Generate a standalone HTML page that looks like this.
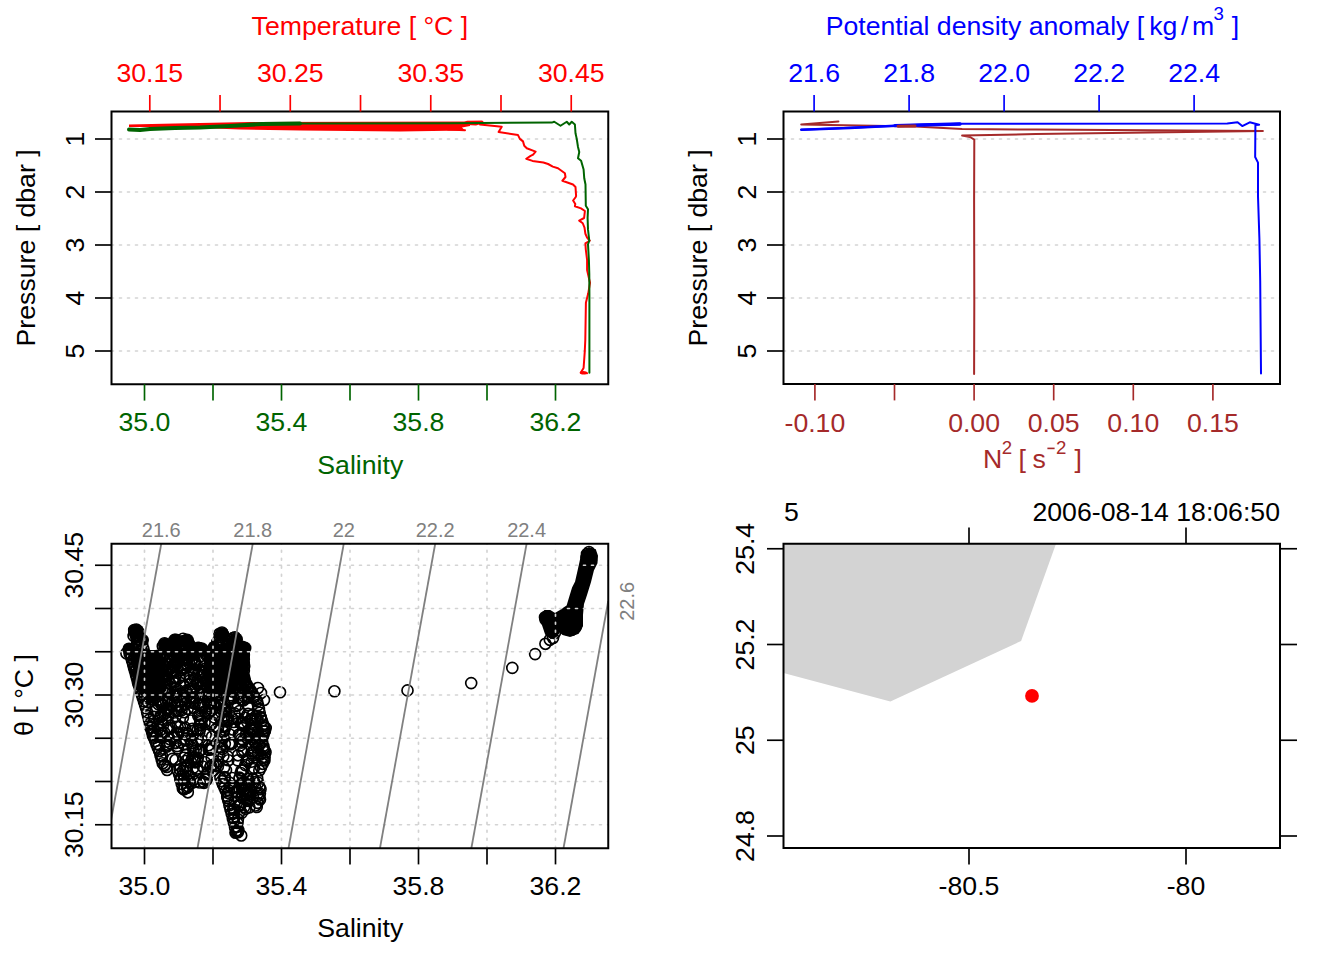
<!DOCTYPE html>
<html><head><meta charset="utf-8"><style>
html,body{margin:0;padding:0;background:#fff;overflow:hidden;}
svg{display:block;}
text{font-family:"Liberation Sans",sans-serif;}
</style></head><body>
<svg width="1344" height="960" viewBox="0 0 1344 960">
<defs><clipPath id="clipBL"><rect x="111.5" y="543.75" width="496.75" height="304.5"/></clipPath></defs>
<rect width="1344" height="960" fill="#fff"/>
<line x1="111.50" y1="139.00" x2="608.25" y2="139.00" stroke="#d3d3d3" stroke-width="1.67" stroke-dasharray="2 6" stroke-linecap="round"/>
<line x1="111.50" y1="192.00" x2="608.25" y2="192.00" stroke="#d3d3d3" stroke-width="1.67" stroke-dasharray="2 6" stroke-linecap="round"/>
<line x1="111.50" y1="245.00" x2="608.25" y2="245.00" stroke="#d3d3d3" stroke-width="1.67" stroke-dasharray="2 6" stroke-linecap="round"/>
<line x1="111.50" y1="298.00" x2="608.25" y2="298.00" stroke="#d3d3d3" stroke-width="1.67" stroke-dasharray="2 6" stroke-linecap="round"/>
<line x1="111.50" y1="351.00" x2="608.25" y2="351.00" stroke="#d3d3d3" stroke-width="1.67" stroke-dasharray="2 6" stroke-linecap="round"/>
<polygon points="129.00,124.50 175.00,123.50 250.00,122.00 470.00,121.50 470.00,126.00 462.00,127.50 465.00,130.50 400.00,131.50 300.00,130.50 240.00,129.50 200.00,128.00 160.00,127.00 129.00,127.00" fill="#ff0000" stroke="none" stroke-width="1.67" stroke-linejoin="round" stroke-linecap="round" />
<polyline points="129.00,129.50 140.00,130.00 150.00,129.00 175.00,128.00 200.00,127.50 230.00,126.00 262.00,124.00 300.00,123.50" fill="none" stroke="#006400" stroke-width="4" stroke-linejoin="round" stroke-linecap="round" />
<polyline points="460.00,125.00 467.40,121.75 482.40,121.75 480.00,124.50 501.75,126.75 498.60,132.00 518.00,135.10 519.90,138.90 523.00,141.40 524.25,145.75 526.75,148.25 535.60,151.60 533.10,154.70 530.60,155.90 526.25,158.75 532.50,160.90 543.40,162.50 548.10,164.00 552.80,166.60 558.00,168.25 564.90,173.25 565.50,177.00 562.40,180.75 573.00,184.50 575.50,187.00 576.10,196.00 575.75,197.00 573.10,200.50 575.30,204.00 574.90,206.20 581.00,208.40 584.90,211.00 584.10,218.00 579.20,220.60 582.75,223.25 584.50,227.60 585.40,233.75 587.10,237.70 589.75,240.75 585.40,243.40 585.80,249.50 587.10,260.00 587.10,270.00 590.00,282.80 588.25,293.30 585.90,302.70 585.30,340.00 584.75,351.70 583.60,368.00 580.70,372.70 587.10,373.25" fill="none" stroke="#ff0000" stroke-width="2" stroke-linejoin="round" stroke-linecap="round" />
<polygon points="467.00,121.00 482.00,120.80 483.00,123.50 476.00,125.50 467.00,125.00" fill="#ff0000" stroke="none" stroke-width="1.67" stroke-linejoin="round" stroke-linecap="round" />
<polyline points="448.00,129.50 465.00,130.30" fill="none" stroke="#ff0000" stroke-width="2" stroke-linejoin="round" stroke-linecap="round" />
<ellipse cx="583.5" cy="372.8" rx="3.6" ry="1.8" fill="#ff0000"/>
<polyline points="300.00,123.50 450.00,123.20 551.75,122.60 554.25,121.75 560.50,125.75 566.75,121.75 569.25,124.50 571.75,121.75 574.90,124.50 575.50,133.25 576.75,138.90 578.00,147.00 579.25,152.00 578.00,158.25 581.10,160.75 583.60,169.50 584.25,178.25 585.50,184.50 585.80,205.75 588.00,209.25 587.60,218.00 588.00,229.40 589.30,240.75 588.00,244.25 588.90,260.00 589.30,274.00 589.40,293.30 589.40,372.70" fill="none" stroke="#006400" stroke-width="2" stroke-linejoin="round" stroke-linecap="round" />
<rect x="111.5" y="111.5" width="496.75" height="272.75" fill="none" stroke="#000" stroke-width="2"/>
<line x1="95.00" y1="139.00" x2="111.50" y2="139.00" stroke="#000" stroke-width="1.67" />
<text transform="translate(83.50,139.00) rotate(-90)" text-anchor="middle" fill="#000" font-size="26.67" >1</text>
<line x1="95.00" y1="192.00" x2="111.50" y2="192.00" stroke="#000" stroke-width="1.67" />
<text transform="translate(83.50,192.00) rotate(-90)" text-anchor="middle" fill="#000" font-size="26.67" >2</text>
<line x1="95.00" y1="245.00" x2="111.50" y2="245.00" stroke="#000" stroke-width="1.67" />
<text transform="translate(83.50,245.00) rotate(-90)" text-anchor="middle" fill="#000" font-size="26.67" >3</text>
<line x1="95.00" y1="298.00" x2="111.50" y2="298.00" stroke="#000" stroke-width="1.67" />
<text transform="translate(83.50,298.00) rotate(-90)" text-anchor="middle" fill="#000" font-size="26.67" >4</text>
<line x1="95.00" y1="351.00" x2="111.50" y2="351.00" stroke="#000" stroke-width="1.67" />
<text transform="translate(83.50,351.00) rotate(-90)" text-anchor="middle" fill="#000" font-size="26.67" >5</text>
<line x1="149.80" y1="95.00" x2="149.80" y2="111.50" stroke="#ff0000" stroke-width="1.67" />
<line x1="220.04" y1="95.00" x2="220.04" y2="111.50" stroke="#ff0000" stroke-width="1.67" />
<line x1="290.28" y1="95.00" x2="290.28" y2="111.50" stroke="#ff0000" stroke-width="1.67" />
<line x1="360.52" y1="95.00" x2="360.52" y2="111.50" stroke="#ff0000" stroke-width="1.67" />
<line x1="430.76" y1="95.00" x2="430.76" y2="111.50" stroke="#ff0000" stroke-width="1.67" />
<line x1="501.00" y1="95.00" x2="501.00" y2="111.50" stroke="#ff0000" stroke-width="1.67" />
<line x1="571.24" y1="95.00" x2="571.24" y2="111.50" stroke="#ff0000" stroke-width="1.67" />
<text x="149.80" y="82.00" text-anchor="middle" fill="#ff0000" font-size="26.67" >30.15</text>
<text x="290.28" y="82.00" text-anchor="middle" fill="#ff0000" font-size="26.67" >30.25</text>
<text x="430.76" y="82.00" text-anchor="middle" fill="#ff0000" font-size="26.67" >30.35</text>
<text x="571.24" y="82.00" text-anchor="middle" fill="#ff0000" font-size="26.67" >30.45</text>
<line x1="144.50" y1="384.25" x2="144.50" y2="400.60" stroke="#006400" stroke-width="1.67" />
<line x1="213.00" y1="384.25" x2="213.00" y2="400.60" stroke="#006400" stroke-width="1.67" />
<line x1="281.50" y1="384.25" x2="281.50" y2="400.60" stroke="#006400" stroke-width="1.67" />
<line x1="350.00" y1="384.25" x2="350.00" y2="400.60" stroke="#006400" stroke-width="1.67" />
<line x1="418.50" y1="384.25" x2="418.50" y2="400.60" stroke="#006400" stroke-width="1.67" />
<line x1="487.00" y1="384.25" x2="487.00" y2="400.60" stroke="#006400" stroke-width="1.67" />
<line x1="555.50" y1="384.25" x2="555.50" y2="400.60" stroke="#006400" stroke-width="1.67" />
<text x="144.50" y="431.20" text-anchor="middle" fill="#006400" font-size="26.67" >35.0</text>
<text x="281.50" y="431.20" text-anchor="middle" fill="#006400" font-size="26.67" >35.4</text>
<text x="418.50" y="431.20" text-anchor="middle" fill="#006400" font-size="26.67" >35.8</text>
<text x="555.50" y="431.20" text-anchor="middle" fill="#006400" font-size="26.67" >36.2</text>
<text x="359.90" y="35.00" text-anchor="middle" fill="#ff0000" font-size="26.67" >Temperature [ °C ]</text>
<text x="360.30" y="473.75" text-anchor="middle" fill="#006400" font-size="26.67" >Salinity</text>
<text transform="translate(35.40,247.90) rotate(-90)" text-anchor="middle" fill="#000" font-size="26.67" >Pressure [ dbar ]</text>
<line x1="783.50" y1="139.00" x2="1280.00" y2="139.00" stroke="#d3d3d3" stroke-width="1.67" stroke-dasharray="2 6" stroke-linecap="round"/>
<line x1="783.50" y1="192.00" x2="1280.00" y2="192.00" stroke="#d3d3d3" stroke-width="1.67" stroke-dasharray="2 6" stroke-linecap="round"/>
<line x1="783.50" y1="245.00" x2="1280.00" y2="245.00" stroke="#d3d3d3" stroke-width="1.67" stroke-dasharray="2 6" stroke-linecap="round"/>
<line x1="783.50" y1="298.00" x2="1280.00" y2="298.00" stroke="#d3d3d3" stroke-width="1.67" stroke-dasharray="2 6" stroke-linecap="round"/>
<line x1="783.50" y1="351.00" x2="1280.00" y2="351.00" stroke="#d3d3d3" stroke-width="1.67" stroke-dasharray="2 6" stroke-linecap="round"/>
<polyline points="838.40,121.40 801.25,124.40 915.25,126.60 962.10,128.90 1036.00,129.60 1262.90,130.90 1036.00,134.10 962.10,135.60 970.00,137.00 974.30,139.60 974.10,200.00 974.30,300.00 974.10,374.00" fill="none" stroke="#a52a2a" stroke-width="2" stroke-linejoin="round" stroke-linecap="round" />
<polyline points="801.25,129.80 915.25,125.10 962.10,123.80 1227.25,123.60 1237.60,122.30 1242.25,126.10 1249.75,122.30 1259.10,124.75 1255.40,125.10 1255.15,157.00 1258.00,162.60 1258.00,196.40 1259.40,238.50 1260.20,280.70 1261.00,373.50" fill="none" stroke="#0000ff" stroke-width="2" stroke-linejoin="round" stroke-linecap="round" />
<polyline points="801.25,129.80 850.00,128.00 900.00,125.50 960.00,124.00" fill="none" stroke="#0000ff" stroke-width="2.4" stroke-linejoin="round" stroke-linecap="round" />
<polyline points="895.00,125.60 960.00,124.00" fill="none" stroke="#0000ff" stroke-width="3.4" stroke-linejoin="round" stroke-linecap="round" />
<polyline points="898.00,126.20 915.00,126.00" fill="none" stroke="#a52a2a" stroke-width="3" stroke-linejoin="round" stroke-linecap="round" />
<rect x="783.5" y="111.5" width="496.5" height="272.5" fill="none" stroke="#000" stroke-width="2"/>
<line x1="767.00" y1="139.00" x2="783.50" y2="139.00" stroke="#000" stroke-width="1.67" />
<text transform="translate(755.50,139.00) rotate(-90)" text-anchor="middle" fill="#000" font-size="26.67" >1</text>
<line x1="767.00" y1="192.00" x2="783.50" y2="192.00" stroke="#000" stroke-width="1.67" />
<text transform="translate(755.50,192.00) rotate(-90)" text-anchor="middle" fill="#000" font-size="26.67" >2</text>
<line x1="767.00" y1="245.00" x2="783.50" y2="245.00" stroke="#000" stroke-width="1.67" />
<text transform="translate(755.50,245.00) rotate(-90)" text-anchor="middle" fill="#000" font-size="26.67" >3</text>
<line x1="767.00" y1="298.00" x2="783.50" y2="298.00" stroke="#000" stroke-width="1.67" />
<text transform="translate(755.50,298.00) rotate(-90)" text-anchor="middle" fill="#000" font-size="26.67" >4</text>
<line x1="767.00" y1="351.00" x2="783.50" y2="351.00" stroke="#000" stroke-width="1.67" />
<text transform="translate(755.50,351.00) rotate(-90)" text-anchor="middle" fill="#000" font-size="26.67" >5</text>
<line x1="814.10" y1="95.00" x2="814.10" y2="111.50" stroke="#0000ff" stroke-width="1.67" />
<text x="814.10" y="82.00" text-anchor="middle" fill="#0000ff" font-size="26.67" >21.6</text>
<line x1="909.10" y1="95.00" x2="909.10" y2="111.50" stroke="#0000ff" stroke-width="1.67" />
<text x="909.10" y="82.00" text-anchor="middle" fill="#0000ff" font-size="26.67" >21.8</text>
<line x1="1004.10" y1="95.00" x2="1004.10" y2="111.50" stroke="#0000ff" stroke-width="1.67" />
<text x="1004.10" y="82.00" text-anchor="middle" fill="#0000ff" font-size="26.67" >22.0</text>
<line x1="1099.10" y1="95.00" x2="1099.10" y2="111.50" stroke="#0000ff" stroke-width="1.67" />
<text x="1099.10" y="82.00" text-anchor="middle" fill="#0000ff" font-size="26.67" >22.2</text>
<line x1="1194.10" y1="95.00" x2="1194.10" y2="111.50" stroke="#0000ff" stroke-width="1.67" />
<text x="1194.10" y="82.00" text-anchor="middle" fill="#0000ff" font-size="26.67" >22.4</text>
<line x1="814.90" y1="384.00" x2="814.90" y2="400.40" stroke="#a52a2a" stroke-width="1.67" />
<line x1="894.50" y1="384.00" x2="894.50" y2="400.40" stroke="#a52a2a" stroke-width="1.67" />
<line x1="974.10" y1="384.00" x2="974.10" y2="400.40" stroke="#a52a2a" stroke-width="1.67" />
<line x1="1053.70" y1="384.00" x2="1053.70" y2="400.40" stroke="#a52a2a" stroke-width="1.67" />
<line x1="1133.30" y1="384.00" x2="1133.30" y2="400.40" stroke="#a52a2a" stroke-width="1.67" />
<line x1="1212.90" y1="384.00" x2="1212.90" y2="400.40" stroke="#a52a2a" stroke-width="1.67" />
<text x="814.90" y="431.50" text-anchor="middle" fill="#a52a2a" font-size="26.67" >-0.10</text>
<text x="974.10" y="431.50" text-anchor="middle" fill="#a52a2a" font-size="26.67" >0.00</text>
<text x="1053.70" y="431.50" text-anchor="middle" fill="#a52a2a" font-size="26.67" >0.05</text>
<text x="1133.30" y="431.50" text-anchor="middle" fill="#a52a2a" font-size="26.67" >0.10</text>
<text x="1212.90" y="431.50" text-anchor="middle" fill="#a52a2a" font-size="26.67" >0.15</text>
<text transform="translate(707.40,247.90) rotate(-90)" text-anchor="middle" fill="#000" font-size="26.67" >Pressure [ dbar ]</text>
<text x="825.7" y="35" fill="#0000ff" font-size="26.67">Potential density anomaly [ <tspan dx="-2.5">kg</tspan><tspan dx="3.7">/</tspan><tspan dx="3.6">m</tspan></text>
<text x="1213.4" y="20.2" fill="#0000ff" font-size="18.67">3</text>
<text x="1231.8" y="35" fill="#0000ff" font-size="26.67">]</text>
<text x="983" y="467.5" fill="#a52a2a" font-size="26.67">N</text>
<text x="1001.8" y="453.7" fill="#a52a2a" font-size="18.67">2</text>
<text x="1018.6" y="467.5" fill="#a52a2a" font-size="26.67">[</text>
<text x="1032.6" y="467.5" fill="#a52a2a" font-size="26.67">s</text>
<rect x="1047.4" y="447.6" width="7.2" height="1.6" fill="#a52a2a"/>
<text x="1056" y="453.7" fill="#a52a2a" font-size="18.67">2</text>
<text x="1074.4" y="467.5" fill="#a52a2a" font-size="26.67">]</text>
<polygon points="130,650 163,650 166,690 150,705 137,690" fill="#000"/><polygon points="203,648 248,648 248,682 215,695 205,690" fill="#000"/><g fill="none" stroke="#000" stroke-width="1.65"><circle cx="471.2" cy="683.1" r="5.5"/><circle cx="512.3" cy="667.9" r="5.5"/><circle cx="535.1" cy="654.1" r="5.5"/><circle cx="545.4" cy="643.8" r="5.5"/><circle cx="549.8" cy="639.8" r="5.5"/><circle cx="553.0" cy="638.0" r="5.5"/><circle cx="407.5" cy="690.4" r="5.5"/><circle cx="334.4" cy="691.2" r="5.5"/><circle cx="280.0" cy="692.2" r="5.5"/><circle cx="171.3" cy="656.9" r="5.5"/><circle cx="263.9" cy="748.8" r="5.5"/><circle cx="218.1" cy="704.7" r="5.5"/><circle cx="186.7" cy="692.1" r="5.5"/><circle cx="190.5" cy="689.0" r="5.5"/><circle cx="227.0" cy="677.0" r="5.5"/><circle cx="231.5" cy="686.5" r="5.5"/><circle cx="235.6" cy="657.2" r="5.5"/><circle cx="211.5" cy="749.4" r="5.5"/><circle cx="193.6" cy="767.6" r="5.5"/><circle cx="245.3" cy="685.8" r="5.5"/><circle cx="191.8" cy="660.6" r="5.5"/><circle cx="142.5" cy="677.8" r="5.5"/><circle cx="164.6" cy="713.9" r="5.5"/><circle cx="145.7" cy="662.4" r="5.5"/><circle cx="157.9" cy="729.0" r="5.5"/><circle cx="185.4" cy="704.0" r="5.5"/><circle cx="181.5" cy="710.4" r="5.5"/><circle cx="147.3" cy="697.7" r="5.5"/><circle cx="214.4" cy="656.4" r="5.5"/><circle cx="174.8" cy="702.9" r="5.5"/><circle cx="192.4" cy="728.7" r="5.5"/><circle cx="226.6" cy="680.7" r="5.5"/><circle cx="172.2" cy="672.5" r="5.5"/><circle cx="156.9" cy="736.0" r="5.5"/><circle cx="164.7" cy="680.3" r="5.5"/><circle cx="156.0" cy="673.3" r="5.5"/><circle cx="194.2" cy="662.9" r="5.5"/><circle cx="230.8" cy="661.1" r="5.5"/><circle cx="243.0" cy="655.9" r="5.5"/><circle cx="175.3" cy="742.7" r="5.5"/><circle cx="160.6" cy="687.6" r="5.5"/><circle cx="210.3" cy="680.3" r="5.5"/><circle cx="175.8" cy="723.2" r="5.5"/><circle cx="197.7" cy="739.1" r="5.5"/><circle cx="241.9" cy="661.6" r="5.5"/><circle cx="230.9" cy="744.4" r="5.5"/><circle cx="160.1" cy="684.1" r="5.5"/><circle cx="190.4" cy="739.4" r="5.5"/><circle cx="221.3" cy="655.2" r="5.5"/><circle cx="187.3" cy="735.6" r="5.5"/><circle cx="152.3" cy="693.1" r="5.5"/><circle cx="172.5" cy="758.9" r="5.5"/><circle cx="138.8" cy="681.7" r="5.5"/><circle cx="238.9" cy="682.7" r="5.5"/><circle cx="244.8" cy="680.2" r="5.5"/><circle cx="136.5" cy="636.8" r="5.5"/><circle cx="190.6" cy="697.5" r="5.5"/><circle cx="153.2" cy="691.7" r="5.5"/><circle cx="236.0" cy="686.9" r="5.5"/><circle cx="149.7" cy="699.2" r="5.5"/><circle cx="232.1" cy="743.2" r="5.5"/><circle cx="183.3" cy="699.3" r="5.5"/><circle cx="233.2" cy="679.5" r="5.5"/><circle cx="252.5" cy="769.0" r="5.5"/><circle cx="159.2" cy="687.6" r="5.5"/><circle cx="169.2" cy="701.3" r="5.5"/><circle cx="179.9" cy="726.7" r="5.5"/><circle cx="153.1" cy="733.2" r="5.5"/><circle cx="243.8" cy="654.4" r="5.5"/><circle cx="224.3" cy="729.9" r="5.5"/><circle cx="241.7" cy="785.7" r="5.5"/><circle cx="202.7" cy="766.5" r="5.5"/><circle cx="232.6" cy="678.8" r="5.5"/><circle cx="134.8" cy="656.2" r="5.5"/><circle cx="233.6" cy="690.0" r="5.5"/><circle cx="226.0" cy="770.1" r="5.5"/><circle cx="199.9" cy="724.6" r="5.5"/><circle cx="227.7" cy="674.3" r="5.5"/><circle cx="190.2" cy="689.5" r="5.5"/><circle cx="174.3" cy="692.5" r="5.5"/><circle cx="210.7" cy="702.2" r="5.5"/><circle cx="160.3" cy="681.7" r="5.5"/><circle cx="204.8" cy="779.5" r="5.5"/><circle cx="218.9" cy="686.1" r="5.5"/><circle cx="193.3" cy="698.5" r="5.5"/><circle cx="167.9" cy="744.6" r="5.5"/><circle cx="148.1" cy="659.3" r="5.5"/><circle cx="257.7" cy="731.6" r="5.5"/><circle cx="190.0" cy="654.5" r="5.5"/><circle cx="136.8" cy="676.0" r="5.5"/><circle cx="234.5" cy="713.4" r="5.5"/><circle cx="201.1" cy="705.7" r="5.5"/><circle cx="155.3" cy="682.8" r="5.5"/><circle cx="193.5" cy="751.0" r="5.5"/><circle cx="191.1" cy="743.3" r="5.5"/><circle cx="239.4" cy="674.5" r="5.5"/><circle cx="219.1" cy="689.9" r="5.5"/><circle cx="227.0" cy="648.6" r="5.5"/><circle cx="201.1" cy="750.1" r="5.5"/><circle cx="193.8" cy="675.0" r="5.5"/><circle cx="197.2" cy="769.8" r="5.5"/><circle cx="185.7" cy="771.6" r="5.5"/><circle cx="241.6" cy="783.8" r="5.5"/><circle cx="157.5" cy="672.1" r="5.5"/><circle cx="196.8" cy="664.8" r="5.5"/><circle cx="221.9" cy="706.0" r="5.5"/><circle cx="172.5" cy="660.9" r="5.5"/><circle cx="245.3" cy="717.6" r="5.5"/><circle cx="243.8" cy="789.7" r="5.5"/><circle cx="234.2" cy="818.1" r="5.5"/><circle cx="214.8" cy="680.9" r="5.5"/><circle cx="170.2" cy="683.8" r="5.5"/><circle cx="160.5" cy="717.1" r="5.5"/><circle cx="238.0" cy="755.3" r="5.5"/><circle cx="135.0" cy="666.9" r="5.5"/><circle cx="228.6" cy="720.8" r="5.5"/><circle cx="166.9" cy="746.6" r="5.5"/><circle cx="232.8" cy="667.3" r="5.5"/><circle cx="159.7" cy="657.5" r="5.5"/><circle cx="209.1" cy="694.8" r="5.5"/><circle cx="140.9" cy="665.3" r="5.5"/><circle cx="189.9" cy="680.4" r="5.5"/><circle cx="211.7" cy="758.1" r="5.5"/><circle cx="178.0" cy="654.9" r="5.5"/><circle cx="150.7" cy="691.7" r="5.5"/><circle cx="241.3" cy="742.6" r="5.5"/><circle cx="204.9" cy="762.2" r="5.5"/><circle cx="184.1" cy="685.5" r="5.5"/><circle cx="207.3" cy="701.4" r="5.5"/><circle cx="177.3" cy="666.9" r="5.5"/><circle cx="191.7" cy="659.4" r="5.5"/><circle cx="178.3" cy="733.2" r="5.5"/><circle cx="155.6" cy="710.6" r="5.5"/><circle cx="180.2" cy="650.9" r="5.5"/><circle cx="168.7" cy="715.0" r="5.5"/><circle cx="186.5" cy="766.4" r="5.5"/><circle cx="215.1" cy="729.9" r="5.5"/><circle cx="236.6" cy="792.6" r="5.5"/><circle cx="139.1" cy="652.1" r="5.5"/><circle cx="217.7" cy="642.1" r="5.5"/><circle cx="238.7" cy="734.7" r="5.5"/><circle cx="244.2" cy="666.2" r="5.5"/><circle cx="235.5" cy="658.6" r="5.5"/><circle cx="162.3" cy="733.5" r="5.5"/><circle cx="188.9" cy="662.5" r="5.5"/><circle cx="221.8" cy="691.8" r="5.5"/><circle cx="214.7" cy="717.6" r="5.5"/><circle cx="175.9" cy="647.3" r="5.5"/><circle cx="210.7" cy="668.4" r="5.5"/><circle cx="193.7" cy="653.5" r="5.5"/><circle cx="159.4" cy="656.6" r="5.5"/><circle cx="239.4" cy="711.1" r="5.5"/><circle cx="232.1" cy="678.0" r="5.5"/><circle cx="183.5" cy="675.6" r="5.5"/><circle cx="144.4" cy="667.4" r="5.5"/><circle cx="149.2" cy="691.1" r="5.5"/><circle cx="239.5" cy="778.6" r="5.5"/><circle cx="248.6" cy="785.1" r="5.5"/><circle cx="233.4" cy="722.0" r="5.5"/><circle cx="138.9" cy="674.5" r="5.5"/><circle cx="228.9" cy="681.7" r="5.5"/><circle cx="200.9" cy="681.6" r="5.5"/><circle cx="161.9" cy="675.3" r="5.5"/><circle cx="168.9" cy="670.1" r="5.5"/><circle cx="174.4" cy="655.0" r="5.5"/><circle cx="139.2" cy="668.8" r="5.5"/><circle cx="217.0" cy="686.4" r="5.5"/><circle cx="153.7" cy="693.2" r="5.5"/><circle cx="203.1" cy="671.1" r="5.5"/><circle cx="165.4" cy="670.7" r="5.5"/><circle cx="217.7" cy="641.8" r="5.5"/><circle cx="176.0" cy="710.9" r="5.5"/><circle cx="153.8" cy="681.1" r="5.5"/><circle cx="157.9" cy="723.8" r="5.5"/><circle cx="175.0" cy="694.8" r="5.5"/><circle cx="158.6" cy="665.7" r="5.5"/><circle cx="146.2" cy="658.0" r="5.5"/><circle cx="171.7" cy="737.0" r="5.5"/><circle cx="231.4" cy="646.3" r="5.5"/><circle cx="232.1" cy="718.2" r="5.5"/><circle cx="218.0" cy="647.4" r="5.5"/><circle cx="192.0" cy="655.0" r="5.5"/><circle cx="185.8" cy="673.7" r="5.5"/><circle cx="190.6" cy="691.9" r="5.5"/><circle cx="160.4" cy="715.7" r="5.5"/><circle cx="262.9" cy="736.3" r="5.5"/><circle cx="164.0" cy="710.6" r="5.5"/><circle cx="175.5" cy="681.6" r="5.5"/><circle cx="201.5" cy="671.6" r="5.5"/><circle cx="181.4" cy="670.1" r="5.5"/><circle cx="192.9" cy="745.6" r="5.5"/><circle cx="244.4" cy="725.3" r="5.5"/><circle cx="162.9" cy="705.5" r="5.5"/><circle cx="186.5" cy="664.5" r="5.5"/><circle cx="230.4" cy="685.0" r="5.5"/><circle cx="168.1" cy="727.8" r="5.5"/><circle cx="217.9" cy="766.5" r="5.5"/><circle cx="257.7" cy="793.4" r="5.5"/><circle cx="246.7" cy="760.9" r="5.5"/><circle cx="220.6" cy="678.3" r="5.5"/><circle cx="144.4" cy="674.8" r="5.5"/><circle cx="240.8" cy="660.6" r="5.5"/><circle cx="240.2" cy="805.2" r="5.5"/><circle cx="205.6" cy="681.4" r="5.5"/><circle cx="248.0" cy="705.2" r="5.5"/><circle cx="217.8" cy="761.5" r="5.5"/><circle cx="177.6" cy="726.7" r="5.5"/><circle cx="237.6" cy="669.8" r="5.5"/><circle cx="183.2" cy="733.0" r="5.5"/><circle cx="172.4" cy="692.8" r="5.5"/><circle cx="254.7" cy="742.0" r="5.5"/><circle cx="138.3" cy="663.5" r="5.5"/><circle cx="240.0" cy="745.6" r="5.5"/><circle cx="168.1" cy="715.3" r="5.5"/><circle cx="184.5" cy="646.4" r="5.5"/><circle cx="154.8" cy="657.1" r="5.5"/><circle cx="230.0" cy="676.6" r="5.5"/><circle cx="231.6" cy="642.6" r="5.5"/><circle cx="177.8" cy="748.4" r="5.5"/><circle cx="223.7" cy="655.6" r="5.5"/><circle cx="207.4" cy="687.4" r="5.5"/><circle cx="212.5" cy="690.9" r="5.5"/><circle cx="243.1" cy="685.5" r="5.5"/><circle cx="162.3" cy="715.5" r="5.5"/><circle cx="174.7" cy="642.7" r="5.5"/><circle cx="241.6" cy="667.6" r="5.5"/><circle cx="213.3" cy="770.5" r="5.5"/><circle cx="153.9" cy="679.3" r="5.5"/><circle cx="240.8" cy="723.5" r="5.5"/><circle cx="243.0" cy="790.9" r="5.5"/><circle cx="254.6" cy="736.9" r="5.5"/><circle cx="210.7" cy="665.2" r="5.5"/><circle cx="177.1" cy="746.1" r="5.5"/><circle cx="200.0" cy="656.5" r="5.5"/><circle cx="240.1" cy="658.1" r="5.5"/><circle cx="174.5" cy="736.4" r="5.5"/><circle cx="251.8" cy="729.2" r="5.5"/><circle cx="153.1" cy="663.4" r="5.5"/><circle cx="212.0" cy="710.1" r="5.5"/><circle cx="222.7" cy="709.2" r="5.5"/><circle cx="131.5" cy="655.6" r="5.5"/><circle cx="194.7" cy="660.7" r="5.5"/><circle cx="189.6" cy="645.3" r="5.5"/><circle cx="248.3" cy="759.9" r="5.5"/><circle cx="194.1" cy="759.8" r="5.5"/><circle cx="229.2" cy="743.7" r="5.5"/><circle cx="184.4" cy="658.0" r="5.5"/><circle cx="247.9" cy="696.5" r="5.5"/><circle cx="222.5" cy="669.9" r="5.5"/><circle cx="165.7" cy="680.0" r="5.5"/><circle cx="231.1" cy="687.7" r="5.5"/><circle cx="173.9" cy="654.6" r="5.5"/><circle cx="246.8" cy="737.9" r="5.5"/><circle cx="143.7" cy="663.2" r="5.5"/><circle cx="228.9" cy="666.8" r="5.5"/><circle cx="196.8" cy="683.5" r="5.5"/><circle cx="243.7" cy="750.1" r="5.5"/><circle cx="183.8" cy="780.0" r="5.5"/><circle cx="251.6" cy="730.7" r="5.5"/><circle cx="162.8" cy="664.5" r="5.5"/><circle cx="177.7" cy="659.6" r="5.5"/><circle cx="200.4" cy="720.5" r="5.5"/><circle cx="264.9" cy="731.1" r="5.5"/><circle cx="202.0" cy="740.2" r="5.5"/><circle cx="227.0" cy="666.5" r="5.5"/><circle cx="212.2" cy="748.7" r="5.5"/><circle cx="227.6" cy="646.6" r="5.5"/><circle cx="197.6" cy="684.7" r="5.5"/><circle cx="183.5" cy="653.9" r="5.5"/><circle cx="238.6" cy="697.4" r="5.5"/><circle cx="244.2" cy="807.1" r="5.5"/><circle cx="185.9" cy="760.8" r="5.5"/><circle cx="187.5" cy="733.2" r="5.5"/><circle cx="215.5" cy="678.4" r="5.5"/><circle cx="165.9" cy="690.2" r="5.5"/><circle cx="163.1" cy="725.0" r="5.5"/><circle cx="142.8" cy="687.7" r="5.5"/><circle cx="166.0" cy="676.9" r="5.5"/><circle cx="192.9" cy="691.3" r="5.5"/><circle cx="156.1" cy="734.9" r="5.5"/><circle cx="158.7" cy="744.4" r="5.5"/><circle cx="252.6" cy="719.3" r="5.5"/><circle cx="139.5" cy="672.9" r="5.5"/><circle cx="232.9" cy="657.7" r="5.5"/><circle cx="233.6" cy="788.2" r="5.5"/><circle cx="252.8" cy="755.3" r="5.5"/><circle cx="166.7" cy="708.6" r="5.5"/><circle cx="180.3" cy="693.8" r="5.5"/><circle cx="249.4" cy="732.1" r="5.5"/><circle cx="150.6" cy="689.9" r="5.5"/><circle cx="208.7" cy="749.8" r="5.5"/><circle cx="181.1" cy="701.5" r="5.5"/><circle cx="223.7" cy="737.6" r="5.5"/><circle cx="178.8" cy="710.8" r="5.5"/><circle cx="148.6" cy="693.0" r="5.5"/><circle cx="245.9" cy="734.9" r="5.5"/><circle cx="185.7" cy="658.1" r="5.5"/><circle cx="199.2" cy="733.3" r="5.5"/><circle cx="152.4" cy="731.7" r="5.5"/><circle cx="208.5" cy="713.0" r="5.5"/><circle cx="139.1" cy="646.0" r="5.5"/><circle cx="237.6" cy="694.0" r="5.5"/><circle cx="175.8" cy="660.9" r="5.5"/><circle cx="209.7" cy="699.6" r="5.5"/><circle cx="188.5" cy="758.1" r="5.5"/><circle cx="250.1" cy="692.3" r="5.5"/><circle cx="244.4" cy="689.9" r="5.5"/><circle cx="181.1" cy="779.3" r="5.5"/><circle cx="159.4" cy="661.8" r="5.5"/><circle cx="166.4" cy="745.5" r="5.5"/><circle cx="202.5" cy="707.5" r="5.5"/><circle cx="133.0" cy="651.0" r="5.5"/><circle cx="175.4" cy="677.2" r="5.5"/><circle cx="165.3" cy="675.5" r="5.5"/><circle cx="221.9" cy="698.0" r="5.5"/><circle cx="228.0" cy="644.4" r="5.5"/><circle cx="242.7" cy="658.7" r="5.5"/><circle cx="198.2" cy="673.4" r="5.5"/><circle cx="210.5" cy="703.7" r="5.5"/><circle cx="213.5" cy="670.2" r="5.5"/><circle cx="203.8" cy="682.7" r="5.5"/><circle cx="180.4" cy="766.2" r="5.5"/><circle cx="169.4" cy="708.5" r="5.5"/><circle cx="176.9" cy="732.3" r="5.5"/><circle cx="229.6" cy="685.3" r="5.5"/><circle cx="224.1" cy="767.5" r="5.5"/><circle cx="175.5" cy="760.0" r="5.5"/><circle cx="232.2" cy="778.0" r="5.5"/><circle cx="152.7" cy="689.7" r="5.5"/><circle cx="218.0" cy="663.1" r="5.5"/><circle cx="247.1" cy="791.8" r="5.5"/><circle cx="240.7" cy="669.7" r="5.5"/><circle cx="234.5" cy="643.0" r="5.5"/><circle cx="226.9" cy="716.8" r="5.5"/><circle cx="227.6" cy="798.1" r="5.5"/><circle cx="217.9" cy="741.7" r="5.5"/><circle cx="184.4" cy="667.8" r="5.5"/><circle cx="222.8" cy="675.7" r="5.5"/><circle cx="175.4" cy="688.9" r="5.5"/><circle cx="166.2" cy="702.1" r="5.5"/><circle cx="189.8" cy="648.8" r="5.5"/><circle cx="192.8" cy="702.7" r="5.5"/><circle cx="187.7" cy="665.3" r="5.5"/><circle cx="220.1" cy="678.6" r="5.5"/><circle cx="238.2" cy="805.4" r="5.5"/><circle cx="246.5" cy="784.4" r="5.5"/><circle cx="170.8" cy="703.9" r="5.5"/><circle cx="263.5" cy="731.0" r="5.5"/><circle cx="146.6" cy="689.0" r="5.5"/><circle cx="250.2" cy="794.1" r="5.5"/><circle cx="199.6" cy="715.2" r="5.5"/><circle cx="167.2" cy="719.9" r="5.5"/><circle cx="174.9" cy="666.5" r="5.5"/><circle cx="213.7" cy="688.4" r="5.5"/><circle cx="167.7" cy="698.4" r="5.5"/><circle cx="224.0" cy="720.8" r="5.5"/><circle cx="221.3" cy="704.6" r="5.5"/><circle cx="185.1" cy="738.7" r="5.5"/><circle cx="182.1" cy="649.0" r="5.5"/><circle cx="255.4" cy="742.6" r="5.5"/><circle cx="160.6" cy="729.9" r="5.5"/><circle cx="230.4" cy="646.4" r="5.5"/><circle cx="211.5" cy="670.4" r="5.5"/><circle cx="223.5" cy="679.3" r="5.5"/><circle cx="242.1" cy="664.3" r="5.5"/><circle cx="179.8" cy="655.5" r="5.5"/><circle cx="174.1" cy="656.9" r="5.5"/><circle cx="252.9" cy="797.0" r="5.5"/><circle cx="224.1" cy="709.0" r="5.5"/><circle cx="172.1" cy="671.0" r="5.5"/><circle cx="148.4" cy="702.2" r="5.5"/><circle cx="208.9" cy="708.0" r="5.5"/><circle cx="222.9" cy="683.2" r="5.5"/><circle cx="197.5" cy="680.9" r="5.5"/><circle cx="217.5" cy="702.6" r="5.5"/><circle cx="224.4" cy="689.9" r="5.5"/><circle cx="175.3" cy="743.1" r="5.5"/><circle cx="194.7" cy="703.6" r="5.5"/><circle cx="158.1" cy="699.7" r="5.5"/><circle cx="190.5" cy="720.5" r="5.5"/><circle cx="168.1" cy="660.8" r="5.5"/><circle cx="168.0" cy="690.9" r="5.5"/><circle cx="147.7" cy="682.2" r="5.5"/><circle cx="155.7" cy="710.5" r="5.5"/><circle cx="219.5" cy="666.8" r="5.5"/><circle cx="253.2" cy="698.0" r="5.5"/><circle cx="154.8" cy="694.8" r="5.5"/><circle cx="216.2" cy="696.5" r="5.5"/><circle cx="212.0" cy="679.8" r="5.5"/><circle cx="230.7" cy="695.4" r="5.5"/><circle cx="146.4" cy="655.2" r="5.5"/><circle cx="186.1" cy="740.5" r="5.5"/><circle cx="236.6" cy="791.7" r="5.5"/><circle cx="190.5" cy="684.4" r="5.5"/><circle cx="197.7" cy="744.1" r="5.5"/><circle cx="145.4" cy="662.7" r="5.5"/><circle cx="197.3" cy="761.5" r="5.5"/><circle cx="242.1" cy="723.6" r="5.5"/><circle cx="263.5" cy="759.6" r="5.5"/><circle cx="160.6" cy="681.0" r="5.5"/><circle cx="157.6" cy="668.2" r="5.5"/><circle cx="218.7" cy="688.7" r="5.5"/><circle cx="234.8" cy="801.8" r="5.5"/><circle cx="212.0" cy="722.1" r="5.5"/><circle cx="137.7" cy="660.8" r="5.5"/><circle cx="240.8" cy="773.0" r="5.5"/><circle cx="198.2" cy="674.3" r="5.5"/><circle cx="195.6" cy="653.7" r="5.5"/><circle cx="254.4" cy="782.1" r="5.5"/><circle cx="149.6" cy="681.5" r="5.5"/><circle cx="183.8" cy="744.4" r="5.5"/><circle cx="220.2" cy="741.7" r="5.5"/><circle cx="253.0" cy="779.1" r="5.5"/><circle cx="180.7" cy="707.5" r="5.5"/><circle cx="213.9" cy="705.7" r="5.5"/><circle cx="249.9" cy="734.4" r="5.5"/><circle cx="223.8" cy="693.9" r="5.5"/><circle cx="203.9" cy="672.5" r="5.5"/><circle cx="193.5" cy="780.0" r="5.5"/><circle cx="194.0" cy="672.1" r="5.5"/><circle cx="260.9" cy="738.4" r="5.5"/><circle cx="158.7" cy="661.6" r="5.5"/><circle cx="246.8" cy="800.7" r="5.5"/><circle cx="146.1" cy="678.6" r="5.5"/><circle cx="200.6" cy="722.0" r="5.5"/><circle cx="226.4" cy="721.3" r="5.5"/><circle cx="241.8" cy="788.0" r="5.5"/><circle cx="224.2" cy="703.5" r="5.5"/><circle cx="158.5" cy="704.3" r="5.5"/><circle cx="229.9" cy="683.6" r="5.5"/><circle cx="215.0" cy="704.5" r="5.5"/><circle cx="243.6" cy="700.4" r="5.5"/><circle cx="235.5" cy="706.2" r="5.5"/><circle cx="211.2" cy="724.1" r="5.5"/><circle cx="247.9" cy="713.9" r="5.5"/><circle cx="255.4" cy="719.2" r="5.5"/><circle cx="222.8" cy="784.0" r="5.5"/><circle cx="237.5" cy="649.9" r="5.5"/><circle cx="138.3" cy="643.4" r="5.5"/><circle cx="224.3" cy="777.7" r="5.5"/><circle cx="144.9" cy="696.5" r="5.5"/><circle cx="164.0" cy="681.0" r="5.5"/><circle cx="205.7" cy="734.6" r="5.5"/><circle cx="161.4" cy="668.0" r="5.5"/><circle cx="202.9" cy="705.0" r="5.5"/><circle cx="195.8" cy="750.3" r="5.5"/><circle cx="242.2" cy="667.6" r="5.5"/><circle cx="169.9" cy="739.3" r="5.5"/><circle cx="207.1" cy="694.2" r="5.5"/><circle cx="241.4" cy="687.3" r="5.5"/><circle cx="242.4" cy="752.1" r="5.5"/><circle cx="211.8" cy="663.2" r="5.5"/><circle cx="167.0" cy="669.9" r="5.5"/><circle cx="221.1" cy="679.9" r="5.5"/><circle cx="225.1" cy="657.8" r="5.5"/><circle cx="247.4" cy="687.7" r="5.5"/><circle cx="209.7" cy="693.1" r="5.5"/><circle cx="218.4" cy="672.6" r="5.5"/><circle cx="201.4" cy="687.1" r="5.5"/><circle cx="251.5" cy="753.3" r="5.5"/><circle cx="136.4" cy="654.5" r="5.5"/><circle cx="190.0" cy="677.7" r="5.5"/><circle cx="211.7" cy="723.9" r="5.5"/><circle cx="219.3" cy="652.9" r="5.5"/><circle cx="147.6" cy="661.0" r="5.5"/><circle cx="252.9" cy="727.9" r="5.5"/><circle cx="202.8" cy="649.8" r="5.5"/><circle cx="198.5" cy="703.5" r="5.5"/><circle cx="183.2" cy="668.3" r="5.5"/><circle cx="207.9" cy="772.9" r="5.5"/><circle cx="234.6" cy="657.5" r="5.5"/><circle cx="200.2" cy="687.3" r="5.5"/><circle cx="239.6" cy="777.6" r="5.5"/><circle cx="184.4" cy="712.2" r="5.5"/><circle cx="224.0" cy="657.0" r="5.5"/><circle cx="144.1" cy="667.1" r="5.5"/><circle cx="248.8" cy="794.0" r="5.5"/><circle cx="229.8" cy="699.7" r="5.5"/><circle cx="233.9" cy="653.5" r="5.5"/><circle cx="239.7" cy="812.1" r="5.5"/><circle cx="157.7" cy="667.1" r="5.5"/><circle cx="225.0" cy="777.6" r="5.5"/><circle cx="183.6" cy="643.2" r="5.5"/><circle cx="247.4" cy="697.6" r="5.5"/><circle cx="247.4" cy="795.4" r="5.5"/><circle cx="185.4" cy="754.8" r="5.5"/><circle cx="173.0" cy="670.5" r="5.5"/><circle cx="248.6" cy="757.9" r="5.5"/><circle cx="243.1" cy="650.4" r="5.5"/><circle cx="150.6" cy="682.9" r="5.5"/><circle cx="177.0" cy="672.7" r="5.5"/><circle cx="243.4" cy="678.5" r="5.5"/><circle cx="251.3" cy="735.2" r="5.5"/><circle cx="222.2" cy="640.8" r="5.5"/><circle cx="257.9" cy="731.8" r="5.5"/><circle cx="210.5" cy="748.8" r="5.5"/><circle cx="218.5" cy="685.0" r="5.5"/><circle cx="166.5" cy="741.7" r="5.5"/><circle cx="242.7" cy="770.3" r="5.5"/><circle cx="225.8" cy="684.2" r="5.5"/><circle cx="241.1" cy="699.3" r="5.5"/><circle cx="148.6" cy="691.7" r="5.5"/><circle cx="152.5" cy="693.6" r="5.5"/><circle cx="139.3" cy="680.5" r="5.5"/><circle cx="162.9" cy="668.4" r="5.5"/><circle cx="170.0" cy="657.2" r="5.5"/><circle cx="235.0" cy="683.8" r="5.5"/><circle cx="259.5" cy="738.5" r="5.5"/><circle cx="216.8" cy="680.4" r="5.5"/><circle cx="162.7" cy="676.9" r="5.5"/><circle cx="233.5" cy="698.1" r="5.5"/><circle cx="242.9" cy="699.8" r="5.5"/><circle cx="252.6" cy="739.1" r="5.5"/><circle cx="143.1" cy="697.4" r="5.5"/><circle cx="222.4" cy="749.0" r="5.5"/><circle cx="208.4" cy="683.4" r="5.5"/><circle cx="240.3" cy="805.2" r="5.5"/><circle cx="227.7" cy="756.4" r="5.5"/><circle cx="245.6" cy="683.3" r="5.5"/><circle cx="216.7" cy="654.3" r="5.5"/><circle cx="139.7" cy="672.8" r="5.5"/><circle cx="173.7" cy="695.8" r="5.5"/><circle cx="243.3" cy="740.2" r="5.5"/><circle cx="198.2" cy="715.8" r="5.5"/><circle cx="210.1" cy="710.7" r="5.5"/><circle cx="210.7" cy="673.2" r="5.5"/><circle cx="194.2" cy="653.2" r="5.5"/><circle cx="224.6" cy="777.1" r="5.5"/><circle cx="174.0" cy="665.3" r="5.5"/><circle cx="165.2" cy="666.3" r="5.5"/><circle cx="199.9" cy="719.0" r="5.5"/><circle cx="227.7" cy="666.8" r="5.5"/><circle cx="162.4" cy="701.0" r="5.5"/><circle cx="242.7" cy="722.5" r="5.5"/><circle cx="139.1" cy="657.6" r="5.5"/><circle cx="258.6" cy="795.7" r="5.5"/><circle cx="198.7" cy="669.5" r="5.5"/><circle cx="210.1" cy="706.1" r="5.5"/><circle cx="246.5" cy="793.9" r="5.5"/><circle cx="195.2" cy="762.3" r="5.5"/><circle cx="180.0" cy="646.8" r="5.5"/><circle cx="142.0" cy="667.5" r="5.5"/><circle cx="229.2" cy="676.1" r="5.5"/><circle cx="226.0" cy="726.1" r="5.5"/><circle cx="258.2" cy="753.6" r="5.5"/><circle cx="162.3" cy="657.5" r="5.5"/><circle cx="235.6" cy="646.8" r="5.5"/><circle cx="228.6" cy="664.7" r="5.5"/><circle cx="197.8" cy="758.0" r="5.5"/><circle cx="166.4" cy="710.0" r="5.5"/><circle cx="246.4" cy="799.4" r="5.5"/><circle cx="154.0" cy="716.9" r="5.5"/><circle cx="175.6" cy="644.7" r="5.5"/><circle cx="249.4" cy="807.3" r="5.5"/><circle cx="177.8" cy="689.7" r="5.5"/><circle cx="212.1" cy="736.5" r="5.5"/><circle cx="247.5" cy="778.9" r="5.5"/><circle cx="188.8" cy="776.7" r="5.5"/><circle cx="167.9" cy="699.5" r="5.5"/><circle cx="235.0" cy="683.5" r="5.5"/><circle cx="241.2" cy="739.1" r="5.5"/><circle cx="245.8" cy="692.0" r="5.5"/><circle cx="136.6" cy="670.2" r="5.5"/><circle cx="234.0" cy="786.8" r="5.5"/><circle cx="225.9" cy="669.5" r="5.5"/><circle cx="211.0" cy="765.9" r="5.5"/><circle cx="226.4" cy="689.9" r="5.5"/><circle cx="176.9" cy="655.1" r="5.5"/><circle cx="225.3" cy="683.4" r="5.5"/><circle cx="189.3" cy="781.4" r="5.5"/><circle cx="210.4" cy="767.0" r="5.5"/><circle cx="220.1" cy="747.2" r="5.5"/><circle cx="230.5" cy="654.2" r="5.5"/><circle cx="160.6" cy="703.4" r="5.5"/><circle cx="139.8" cy="677.9" r="5.5"/><circle cx="156.5" cy="666.2" r="5.5"/><circle cx="228.9" cy="644.6" r="5.5"/><circle cx="194.4" cy="661.9" r="5.5"/><circle cx="188.6" cy="649.9" r="5.5"/><circle cx="201.2" cy="676.1" r="5.5"/><circle cx="170.4" cy="668.7" r="5.5"/><circle cx="176.9" cy="650.2" r="5.5"/><circle cx="194.7" cy="663.2" r="5.5"/><circle cx="220.2" cy="735.4" r="5.5"/><circle cx="203.0" cy="674.9" r="5.5"/><circle cx="213.1" cy="764.8" r="5.5"/><circle cx="233.2" cy="809.2" r="5.5"/><circle cx="188.4" cy="654.7" r="5.5"/><circle cx="182.9" cy="770.8" r="5.5"/><circle cx="215.5" cy="671.1" r="5.5"/><circle cx="171.0" cy="712.1" r="5.5"/><circle cx="178.8" cy="659.3" r="5.5"/><circle cx="161.5" cy="722.3" r="5.5"/><circle cx="228.9" cy="654.1" r="5.5"/><circle cx="145.4" cy="654.0" r="5.5"/><circle cx="252.5" cy="715.0" r="5.5"/><circle cx="199.4" cy="649.5" r="5.5"/><circle cx="256.5" cy="747.4" r="5.5"/><circle cx="226.0" cy="679.5" r="5.5"/><circle cx="219.4" cy="663.3" r="5.5"/><circle cx="239.9" cy="674.6" r="5.5"/><circle cx="237.1" cy="651.9" r="5.5"/><circle cx="155.2" cy="681.8" r="5.5"/><circle cx="185.7" cy="641.2" r="5.5"/><circle cx="263.1" cy="748.8" r="5.5"/><circle cx="227.8" cy="718.7" r="5.5"/><circle cx="223.6" cy="659.1" r="5.5"/><circle cx="167.9" cy="679.5" r="5.5"/><circle cx="253.2" cy="751.3" r="5.5"/><circle cx="231.0" cy="683.1" r="5.5"/><circle cx="157.4" cy="681.6" r="5.5"/><circle cx="173.0" cy="737.0" r="5.5"/><circle cx="185.2" cy="727.6" r="5.5"/><circle cx="231.4" cy="698.1" r="5.5"/><circle cx="180.4" cy="779.0" r="5.5"/><circle cx="241.6" cy="797.3" r="5.5"/><circle cx="210.3" cy="665.6" r="5.5"/><circle cx="242.6" cy="795.0" r="5.5"/><circle cx="207.1" cy="654.2" r="5.5"/><circle cx="217.4" cy="676.3" r="5.5"/><circle cx="156.1" cy="687.1" r="5.5"/><circle cx="153.6" cy="691.5" r="5.5"/><circle cx="162.0" cy="658.3" r="5.5"/><circle cx="169.2" cy="692.4" r="5.5"/><circle cx="136.5" cy="635.0" r="5.5"/><circle cx="253.5" cy="724.0" r="5.5"/><circle cx="139.0" cy="639.5" r="5.5"/><circle cx="195.0" cy="678.9" r="5.5"/><circle cx="156.2" cy="693.0" r="5.5"/><circle cx="229.0" cy="790.5" r="5.5"/><circle cx="261.9" cy="757.8" r="5.5"/><circle cx="190.9" cy="761.7" r="5.5"/><circle cx="192.4" cy="757.9" r="5.5"/><circle cx="237.7" cy="718.7" r="5.5"/><circle cx="181.7" cy="644.7" r="5.5"/><circle cx="237.2" cy="653.5" r="5.5"/><circle cx="133.7" cy="659.8" r="5.5"/><circle cx="186.5" cy="697.3" r="5.5"/><circle cx="140.6" cy="680.4" r="5.5"/><circle cx="212.9" cy="686.6" r="5.5"/><circle cx="229.5" cy="782.6" r="5.5"/><circle cx="173.6" cy="677.9" r="5.5"/><circle cx="170.9" cy="661.7" r="5.5"/><circle cx="174.0" cy="664.8" r="5.5"/><circle cx="249.2" cy="801.0" r="5.5"/><circle cx="177.6" cy="705.2" r="5.5"/><circle cx="179.4" cy="648.2" r="5.5"/><circle cx="255.0" cy="787.3" r="5.5"/><circle cx="204.6" cy="722.6" r="5.5"/><circle cx="155.0" cy="697.8" r="5.5"/><circle cx="152.7" cy="724.0" r="5.5"/><circle cx="232.2" cy="691.6" r="5.5"/><circle cx="200.2" cy="728.8" r="5.5"/><circle cx="254.0" cy="767.9" r="5.5"/><circle cx="226.6" cy="651.3" r="5.5"/><circle cx="187.4" cy="779.1" r="5.5"/><circle cx="245.0" cy="794.5" r="5.5"/><circle cx="242.3" cy="671.6" r="5.5"/><circle cx="153.2" cy="689.5" r="5.5"/><circle cx="231.9" cy="664.7" r="5.5"/><circle cx="197.5" cy="768.5" r="5.5"/><circle cx="206.4" cy="655.4" r="5.5"/><circle cx="161.7" cy="683.9" r="5.5"/><circle cx="199.4" cy="725.4" r="5.5"/><circle cx="229.7" cy="785.7" r="5.5"/><circle cx="161.2" cy="735.8" r="5.5"/><circle cx="228.7" cy="683.2" r="5.5"/><circle cx="241.5" cy="770.5" r="5.5"/><circle cx="159.6" cy="667.3" r="5.5"/><circle cx="184.1" cy="757.7" r="5.5"/><circle cx="147.3" cy="671.5" r="5.5"/><circle cx="151.9" cy="692.5" r="5.5"/><circle cx="150.5" cy="727.8" r="5.5"/><circle cx="263.5" cy="726.0" r="5.5"/><circle cx="211.1" cy="655.6" r="5.5"/><circle cx="175.8" cy="716.1" r="5.5"/><circle cx="225.8" cy="708.9" r="5.5"/><circle cx="251.6" cy="747.8" r="5.5"/><circle cx="249.4" cy="781.5" r="5.5"/><circle cx="182.9" cy="717.7" r="5.5"/><circle cx="204.8" cy="711.2" r="5.5"/><circle cx="171.2" cy="727.8" r="5.5"/><circle cx="218.1" cy="727.2" r="5.5"/><circle cx="161.9" cy="704.3" r="5.5"/><circle cx="203.3" cy="683.9" r="5.5"/><circle cx="242.8" cy="656.1" r="5.5"/><circle cx="260.6" cy="718.0" r="5.5"/><circle cx="234.3" cy="809.5" r="5.5"/><circle cx="228.4" cy="760.2" r="5.5"/><circle cx="147.3" cy="663.4" r="5.5"/><circle cx="187.7" cy="708.7" r="5.5"/><circle cx="149.2" cy="663.2" r="5.5"/><circle cx="212.5" cy="697.1" r="5.5"/><circle cx="259.1" cy="745.3" r="5.5"/><circle cx="239.9" cy="735.4" r="5.5"/><circle cx="214.6" cy="692.6" r="5.5"/><circle cx="162.2" cy="756.1" r="5.5"/><circle cx="250.6" cy="729.8" r="5.5"/><circle cx="138.5" cy="684.0" r="5.5"/><circle cx="219.6" cy="645.4" r="5.5"/><circle cx="230.4" cy="670.6" r="5.5"/><circle cx="193.4" cy="650.0" r="5.5"/><circle cx="179.1" cy="678.1" r="5.5"/><circle cx="237.7" cy="760.4" r="5.5"/><circle cx="250.2" cy="720.0" r="5.5"/><circle cx="233.8" cy="674.4" r="5.5"/><circle cx="224.8" cy="743.9" r="5.5"/><circle cx="193.1" cy="730.7" r="5.5"/><circle cx="210.7" cy="659.4" r="5.5"/><circle cx="180.4" cy="742.4" r="5.5"/><circle cx="141.7" cy="685.7" r="5.5"/><circle cx="205.4" cy="668.8" r="5.5"/><circle cx="183.4" cy="774.8" r="5.5"/><circle cx="163.4" cy="656.3" r="5.5"/><circle cx="215.8" cy="765.3" r="5.5"/><circle cx="231.0" cy="743.3" r="5.5"/><circle cx="144.3" cy="658.5" r="5.5"/><circle cx="208.5" cy="745.2" r="5.5"/><circle cx="194.1" cy="708.0" r="5.5"/><circle cx="236.8" cy="672.3" r="5.5"/><circle cx="247.2" cy="722.0" r="5.5"/><circle cx="260.4" cy="754.6" r="5.5"/><circle cx="172.5" cy="643.6" r="5.5"/><circle cx="186.1" cy="690.9" r="5.5"/><circle cx="146.2" cy="690.2" r="5.5"/><circle cx="186.9" cy="660.2" r="5.5"/><circle cx="219.5" cy="658.2" r="5.5"/><circle cx="173.0" cy="646.5" r="5.5"/><circle cx="229.7" cy="734.5" r="5.5"/><circle cx="182.4" cy="667.2" r="5.5"/><circle cx="173.0" cy="681.8" r="5.5"/><circle cx="187.2" cy="658.0" r="5.5"/><circle cx="197.8" cy="729.7" r="5.5"/><circle cx="244.2" cy="726.5" r="5.5"/><circle cx="195.1" cy="651.8" r="5.5"/><circle cx="242.1" cy="648.7" r="5.5"/><circle cx="251.6" cy="761.7" r="5.5"/><circle cx="252.7" cy="779.0" r="5.5"/><circle cx="179.7" cy="769.2" r="5.5"/><circle cx="194.9" cy="697.1" r="5.5"/><circle cx="199.0" cy="751.2" r="5.5"/><circle cx="164.4" cy="732.8" r="5.5"/><circle cx="185.4" cy="767.6" r="5.5"/><circle cx="202.2" cy="683.9" r="5.5"/><circle cx="227.7" cy="792.8" r="5.5"/><circle cx="199.1" cy="705.3" r="5.5"/><circle cx="194.9" cy="782.0" r="5.5"/><circle cx="190.4" cy="701.6" r="5.5"/><circle cx="232.1" cy="669.1" r="5.5"/><circle cx="242.7" cy="673.8" r="5.5"/><circle cx="232.7" cy="729.5" r="5.5"/><circle cx="252.1" cy="719.1" r="5.5"/><circle cx="150.5" cy="658.4" r="5.5"/><circle cx="255.5" cy="716.5" r="5.5"/><circle cx="238.0" cy="705.2" r="5.5"/><circle cx="257.3" cy="719.2" r="5.5"/><circle cx="211.6" cy="679.4" r="5.5"/><circle cx="181.2" cy="706.2" r="5.5"/><circle cx="216.0" cy="665.0" r="5.5"/><circle cx="223.4" cy="756.1" r="5.5"/><circle cx="210.2" cy="748.3" r="5.5"/><circle cx="218.9" cy="754.2" r="5.5"/><circle cx="141.4" cy="670.3" r="5.5"/><circle cx="159.4" cy="751.0" r="5.5"/><circle cx="243.6" cy="682.4" r="5.5"/><circle cx="238.7" cy="806.0" r="5.5"/><circle cx="138.8" cy="680.5" r="5.5"/><circle cx="137.1" cy="644.0" r="5.5"/><circle cx="187.5" cy="733.9" r="5.5"/><circle cx="176.4" cy="696.7" r="5.5"/><circle cx="206.9" cy="685.6" r="5.5"/><circle cx="202.2" cy="695.0" r="5.5"/><circle cx="248.7" cy="697.4" r="5.5"/><circle cx="182.9" cy="659.3" r="5.5"/><circle cx="221.9" cy="720.6" r="5.5"/><circle cx="223.6" cy="731.6" r="5.5"/><circle cx="152.6" cy="661.7" r="5.5"/><circle cx="226.3" cy="680.2" r="5.5"/><circle cx="169.9" cy="743.1" r="5.5"/><circle cx="195.0" cy="757.3" r="5.5"/><circle cx="208.1" cy="672.3" r="5.5"/><circle cx="245.3" cy="765.1" r="5.5"/><circle cx="231.3" cy="682.1" r="5.5"/><circle cx="141.2" cy="658.8" r="5.5"/><circle cx="241.4" cy="685.0" r="5.5"/><circle cx="243.6" cy="782.3" r="5.5"/><circle cx="226.4" cy="709.8" r="5.5"/><circle cx="177.9" cy="734.3" r="5.5"/><circle cx="233.9" cy="813.3" r="5.5"/><circle cx="220.9" cy="711.9" r="5.5"/><circle cx="217.6" cy="728.4" r="5.5"/><circle cx="209.2" cy="671.3" r="5.5"/><circle cx="137" cy="631.5" r="7.3" fill="#000" stroke="none"/><circle cx="129" cy="649" r="6.6" fill="#000" stroke="none"/><circle cx="165" cy="645" r="6.8" fill="#000" stroke="none"/><circle cx="176" cy="640.5" r="7" fill="#000" stroke="none"/><circle cx="187" cy="640.5" r="7" fill="#000" stroke="none"/><circle cx="198" cy="648" r="6.5" fill="#000" stroke="none"/><circle cx="204" cy="651" r="6" fill="#000" stroke="none"/><circle cx="222" cy="634.5" r="7.3" fill="#000" stroke="none"/><circle cx="236" cy="639.5" r="7" fill="#000" stroke="none"/><circle cx="245" cy="648" r="6.5" fill="#000" stroke="none"/><circle cx="214" cy="647" r="6.2" fill="#000" stroke="none"/><circle cx="143" cy="640" r="6" fill="#000" stroke="none"/><circle cx="170" cy="650" r="7" fill="#000" stroke="none"/><circle cx="192" cy="650" r="7" fill="#000" stroke="none"/><circle cx="230" cy="650" r="8" fill="#000" stroke="none"/><circle cx="129.5" cy="653.3" r="5.5"/><circle cx="126.4" cy="653.3" r="5.5"/><circle cx="133.7" cy="648.7" r="5.5"/><circle cx="136.8" cy="639.5" r="5.5"/><circle cx="135.6" cy="635.1" r="5.5"/><circle cx="133.6" cy="635.9" r="5.5"/><circle cx="135.8" cy="632.4" r="5.5"/><circle cx="134.3" cy="631.7" r="5.5"/><circle cx="134.2" cy="630.0" r="5.5"/><circle cx="136.3" cy="629.5" r="5.5"/><circle cx="137.8" cy="632.9" r="5.5"/><circle cx="139.2" cy="635.9" r="5.5"/><circle cx="140.7" cy="640.3" r="5.5"/><circle cx="142.2" cy="644.2" r="5.5"/><circle cx="143.4" cy="648.6" r="5.5"/><circle cx="152.7" cy="657.2" r="5.5"/><circle cx="156.5" cy="656.0" r="5.5"/><circle cx="164.5" cy="649.3" r="5.5"/><circle cx="164.9" cy="645.5" r="5.5"/><circle cx="162.8" cy="646.2" r="5.5"/><circle cx="165.6" cy="644.1" r="5.5"/><circle cx="164.5" cy="643.2" r="5.5"/><circle cx="174.1" cy="642.2" r="5.5"/><circle cx="174.5" cy="639.9" r="5.5"/><circle cx="183.5" cy="641.1" r="5.5"/><circle cx="183.1" cy="638.7" r="5.5"/><circle cx="186.2" cy="641.2" r="5.5"/><circle cx="188.5" cy="642.9" r="5.5"/><circle cx="197.8" cy="649.4" r="5.5"/><circle cx="199.2" cy="648.1" r="5.5"/><circle cx="201.8" cy="648.5" r="5.5"/><circle cx="215.6" cy="650.3" r="5.5"/><circle cx="216.9" cy="645.3" r="5.5"/><circle cx="217.4" cy="642.0" r="5.5"/><circle cx="219.3" cy="638.9" r="5.5"/><circle cx="220.2" cy="637.0" r="5.5"/><circle cx="222.7" cy="634.5" r="5.5"/><circle cx="219.5" cy="633.7" r="5.5"/><circle cx="222.0" cy="632.5" r="5.5"/><circle cx="232.3" cy="639.9" r="5.5"/><circle cx="232.9" cy="638.1" r="5.5"/><circle cx="234.9" cy="637.3" r="5.5"/><circle cx="239.5" cy="646.3" r="5.5"/><circle cx="242.2" cy="646.8" r="5.5"/><circle cx="243.8" cy="651.2" r="5.5"/><circle cx="243.8" cy="655.2" r="5.5"/><circle cx="243.8" cy="659.2" r="5.5"/><circle cx="243.8" cy="663.1" r="5.5"/><circle cx="243.8" cy="667.1" r="5.5"/><circle cx="243.8" cy="671.0" r="5.5"/><circle cx="244.1" cy="676.8" r="5.5"/><circle cx="246.8" cy="684.8" r="5.5"/><circle cx="248.8" cy="687.7" r="5.5"/><circle cx="250.5" cy="690.1" r="5.5"/><circle cx="252.3" cy="693.3" r="5.5"/><circle cx="254.2" cy="696.6" r="5.5"/><circle cx="256.0" cy="699.8" r="5.5"/><circle cx="257.2" cy="701.4" r="5.5"/><circle cx="258.0" cy="705.1" r="5.5"/><circle cx="258.9" cy="708.9" r="5.5"/><circle cx="259.7" cy="712.6" r="5.5"/><circle cx="260.7" cy="717.0" r="5.5"/><circle cx="262.0" cy="720.7" r="5.5"/><circle cx="263.2" cy="724.5" r="5.5"/><circle cx="264.5" cy="728.2" r="5.5"/><circle cx="265.7" cy="728.0" r="5.5"/><circle cx="264.6" cy="731.3" r="5.5"/><circle cx="263.5" cy="734.6" r="5.5"/><circle cx="262.2" cy="741.6" r="5.5"/><circle cx="263.3" cy="746.0" r="5.5"/><circle cx="264.5" cy="750.4" r="5.5"/><circle cx="265.5" cy="752.2" r="5.5"/><circle cx="264.6" cy="757.2" r="5.5"/><circle cx="264.4" cy="760.5" r="5.5"/><circle cx="262.7" cy="763.8" r="5.5"/><circle cx="261.0" cy="767.2" r="5.5"/><circle cx="259.3" cy="770.5" r="5.5"/><circle cx="257.2" cy="778.3" r="5.5"/><circle cx="258.3" cy="782.7" r="5.5"/><circle cx="259.5" cy="787.1" r="5.5"/><circle cx="260.5" cy="789.2" r="5.5"/><circle cx="259.9" cy="793.6" r="5.5"/><circle cx="259.3" cy="798.1" r="5.5"/><circle cx="260.0" cy="799.5" r="5.5"/><circle cx="257.5" cy="802.9" r="5.5"/><circle cx="255.5" cy="805.5" r="5.5"/><circle cx="256.7" cy="807.0" r="5.5"/><circle cx="245.5" cy="808.9" r="5.5"/><circle cx="241.7" cy="812.9" r="5.5"/><circle cx="237.9" cy="819.3" r="5.5"/><circle cx="237.5" cy="823.0" r="5.5"/><circle cx="237.1" cy="826.8" r="5.5"/><circle cx="236.7" cy="830.5" r="5.5"/><circle cx="238.4" cy="830.2" r="5.5"/><circle cx="235.5" cy="832.7" r="5.5"/><circle cx="241.2" cy="835.5" r="5.5"/><circle cx="237.8" cy="832.2" r="5.5"/><circle cx="236.1" cy="831.8" r="5.5"/><circle cx="235.0" cy="827.3" r="5.5"/><circle cx="233.9" cy="822.9" r="5.5"/><circle cx="232.8" cy="818.4" r="5.5"/><circle cx="231.7" cy="814.0" r="5.5"/><circle cx="230.5" cy="809.6" r="5.5"/><circle cx="229.4" cy="805.2" r="5.5"/><circle cx="228.3" cy="800.7" r="5.5"/><circle cx="227.2" cy="796.3" r="5.5"/><circle cx="225.8" cy="790.9" r="5.5"/><circle cx="224.4" cy="787.5" r="5.5"/><circle cx="223.0" cy="784.2" r="5.5"/><circle cx="221.7" cy="781.1" r="5.5"/><circle cx="220.4" cy="777.8" r="5.5"/><circle cx="207.4" cy="774.4" r="5.5"/><circle cx="205.8" cy="778.5" r="5.5"/><circle cx="206.7" cy="779.7" r="5.5"/><circle cx="203.3" cy="781.8" r="5.5"/><circle cx="204.0" cy="782.9" r="5.5"/><circle cx="199.8" cy="782.5" r="5.5"/><circle cx="190.5" cy="783.8" r="5.5"/><circle cx="188.0" cy="786.3" r="5.5"/><circle cx="187.1" cy="787.7" r="5.5"/><circle cx="183.8" cy="789.4" r="5.5"/><circle cx="187.8" cy="792.3" r="5.5"/><circle cx="184.5" cy="788.9" r="5.5"/><circle cx="182.8" cy="788.4" r="5.5"/><circle cx="181.7" cy="784.0" r="5.5"/><circle cx="180.5" cy="779.6" r="5.5"/><circle cx="179.2" cy="774.4" r="5.5"/><circle cx="177.5" cy="770.2" r="5.5"/><circle cx="164.7" cy="764.8" r="5.5"/><circle cx="166.7" cy="767.0" r="5.5"/><circle cx="167.1" cy="770.0" r="5.5"/><circle cx="164.6" cy="765.9" r="5.5"/><circle cx="162.7" cy="763.2" r="5.5"/><circle cx="161.6" cy="759.3" r="5.5"/><circle cx="160.5" cy="755.4" r="5.5"/><circle cx="159.2" cy="751.0" r="5.5"/><circle cx="157.8" cy="747.7" r="5.5"/><circle cx="156.5" cy="744.3" r="5.5"/><circle cx="155.2" cy="741.0" r="5.5"/><circle cx="153.9" cy="737.7" r="5.5"/><circle cx="152.8" cy="735.2" r="5.5"/><circle cx="151.9" cy="731.4" r="5.5"/><circle cx="150.9" cy="727.5" r="5.5"/><circle cx="149.9" cy="723.7" r="5.5"/><circle cx="149.0" cy="719.9" r="5.5"/><circle cx="148.0" cy="716.1" r="5.5"/><circle cx="147.1" cy="712.3" r="5.5"/><circle cx="146.0" cy="708.1" r="5.5"/><circle cx="145.0" cy="704.7" r="5.5"/><circle cx="143.9" cy="701.3" r="5.5"/><circle cx="142.8" cy="697.9" r="5.5"/><circle cx="141.8" cy="694.6" r="5.5"/><circle cx="140.7" cy="691.2" r="5.5"/><circle cx="139.7" cy="687.8" r="5.5"/><circle cx="138.7" cy="684.6" r="5.5"/><circle cx="137.7" cy="681.2" r="5.5"/><circle cx="136.8" cy="677.8" r="5.5"/><circle cx="135.9" cy="674.4" r="5.5"/><circle cx="134.9" cy="671.1" r="5.5"/><circle cx="134.0" cy="667.7" r="5.5"/><circle cx="133.1" cy="664.3" r="5.5"/><circle cx="132.1" cy="660.9" r="5.5"/><circle cx="131.2" cy="657.6" r="5.5"/><circle cx="130.3" cy="654.2" r="5.5"/><circle cx="586.5" cy="557.2" r="5.5"/><circle cx="589.5" cy="555.2" r="5.5"/><circle cx="587.0" cy="554.0" r="5.5"/><circle cx="590.0" cy="555.0" r="5.5"/><circle cx="589.0" cy="552.0" r="5.5"/><circle cx="590.0" cy="555.0" r="5.5"/><circle cx="590.7" cy="555.6" r="5.5"/><circle cx="590.5" cy="559.1" r="5.5"/><circle cx="590.9" cy="560.2" r="5.5"/><circle cx="589.1" cy="563.7" r="5.5"/><circle cx="586.9" cy="568.5" r="5.5"/><circle cx="586.1" cy="571.5" r="5.5"/><circle cx="585.4" cy="574.5" r="5.5"/><circle cx="584.6" cy="577.5" r="5.5"/><circle cx="584.0" cy="580.1" r="5.5"/><circle cx="583.0" cy="583.4" r="5.5"/><circle cx="582.0" cy="586.6" r="5.5"/><circle cx="581.0" cy="589.9" r="5.5"/><circle cx="580.0" cy="593.0" r="5.5"/><circle cx="579.0" cy="596.0" r="5.5"/><circle cx="578.0" cy="599.0" r="5.5"/><circle cx="576.7" cy="603.4" r="5.5"/><circle cx="576.4" cy="607.1" r="5.5"/><circle cx="576.1" cy="610.8" r="5.5"/><circle cx="575.7" cy="615.0" r="5.5"/><circle cx="575.7" cy="618.7" r="5.5"/><circle cx="575.7" cy="622.3" r="5.5"/><circle cx="576.5" cy="622.9" r="5.5"/><circle cx="574.5" cy="626.4" r="5.5"/><circle cx="575.8" cy="627.1" r="5.5"/><circle cx="571.8" cy="628.6" r="5.5"/><circle cx="571.7" cy="629.9" r="5.5"/><circle cx="568.2" cy="628.9" r="5.5"/><circle cx="566.9" cy="629.1" r="5.5"/><circle cx="564.4" cy="627.1" r="5.5"/><circle cx="552.0" cy="628.0" r="5.5"/><circle cx="551.0" cy="631.0" r="5.5"/><circle cx="553.7" cy="630.2" r="5.5"/><circle cx="554.9" cy="633.1" r="5.5"/><circle cx="552.4" cy="631.1" r="5.5"/><circle cx="552.0" cy="632.0" r="5.5"/><circle cx="551.0" cy="629.0" r="5.5"/><circle cx="550.0" cy="626.0" r="5.5"/><circle cx="549.0" cy="623.0" r="5.5"/><circle cx="548.2" cy="621.1" r="5.5"/><circle cx="547.7" cy="617.6" r="5.5"/><circle cx="545.5" cy="619.5" r="5.5"/><circle cx="545.0" cy="617.3" r="5.5"/><circle cx="546.8" cy="616.4" r="5.5"/><circle cx="558.2" cy="619.4" r="5.5"/><circle cx="563.5" cy="616.2" r="5.5"/><circle cx="566.0" cy="614.6" r="5.5"/><circle cx="568.5" cy="612.9" r="5.5"/><circle cx="573.5" cy="607.8" r="5.5"/><circle cx="574.5" cy="604.5" r="5.5"/><circle cx="575.5" cy="601.1" r="5.5"/><circle cx="576.5" cy="597.9" r="5.5"/><circle cx="577.8" cy="593.9" r="5.5"/><circle cx="578.6" cy="590.8" r="5.5"/><circle cx="580.1" cy="587.8" r="5.5"/><circle cx="582.1" cy="583.4" r="5.5"/><circle cx="583.0" cy="579.7" r="5.5"/><circle cx="583.8" cy="576.1" r="5.5"/><circle cx="584.6" cy="572.4" r="5.5"/><circle cx="585.3" cy="569.4" r="5.5"/><circle cx="586.0" cy="566.4" r="5.5"/><circle cx="586.7" cy="563.3" r="5.5"/><circle cx="587.4" cy="559.8" r="5.5"/><circle cx="588.0" cy="557.0" r="5.5"/><polygon points="583,552 589,548 595,550 597,556 596.5,563 593,570 590,582 586,595 583,604 582,615 582,626 578,633 570,636 563,634 558,630 556,636 551,638 546,634 542,622 541,615 545,611 550,611 555,614 560,611 567.5,606 570.5,596 573,588 576,582 578.5,571 580.5,562 582,555" fill="#000" stroke="#000" stroke-width="2"/><circle cx="261.0" cy="693.0" r="5.5"/><circle cx="264.0" cy="700.0" r="5.5"/><circle cx="258.0" cy="688.0" r="5.5"/></g>
<line x1="144.50" y1="848.25" x2="144.50" y2="543.75" stroke="#d3d3d3" stroke-width="1.67" stroke-dasharray="2 6" stroke-linecap="round"/>
<line x1="111.50" y1="565.25" x2="608.25" y2="565.25" stroke="#d3d3d3" stroke-width="1.67" stroke-dasharray="2 6" stroke-linecap="round"/>
<line x1="213.00" y1="848.25" x2="213.00" y2="543.75" stroke="#d3d3d3" stroke-width="1.67" stroke-dasharray="2 6" stroke-linecap="round"/>
<line x1="111.50" y1="608.50" x2="608.25" y2="608.50" stroke="#d3d3d3" stroke-width="1.67" stroke-dasharray="2 6" stroke-linecap="round"/>
<line x1="281.50" y1="848.25" x2="281.50" y2="543.75" stroke="#d3d3d3" stroke-width="1.67" stroke-dasharray="2 6" stroke-linecap="round"/>
<line x1="111.50" y1="651.75" x2="608.25" y2="651.75" stroke="#d3d3d3" stroke-width="1.67" stroke-dasharray="2 6" stroke-linecap="round"/>
<line x1="350.00" y1="848.25" x2="350.00" y2="543.75" stroke="#d3d3d3" stroke-width="1.67" stroke-dasharray="2 6" stroke-linecap="round"/>
<line x1="111.50" y1="695.00" x2="608.25" y2="695.00" stroke="#d3d3d3" stroke-width="1.67" stroke-dasharray="2 6" stroke-linecap="round"/>
<line x1="418.50" y1="848.25" x2="418.50" y2="543.75" stroke="#d3d3d3" stroke-width="1.67" stroke-dasharray="2 6" stroke-linecap="round"/>
<line x1="111.50" y1="738.25" x2="608.25" y2="738.25" stroke="#d3d3d3" stroke-width="1.67" stroke-dasharray="2 6" stroke-linecap="round"/>
<line x1="487.00" y1="848.25" x2="487.00" y2="543.75" stroke="#d3d3d3" stroke-width="1.67" stroke-dasharray="2 6" stroke-linecap="round"/>
<line x1="111.50" y1="781.50" x2="608.25" y2="781.50" stroke="#d3d3d3" stroke-width="1.67" stroke-dasharray="2 6" stroke-linecap="round"/>
<line x1="555.50" y1="848.25" x2="555.50" y2="543.75" stroke="#d3d3d3" stroke-width="1.67" stroke-dasharray="2 6" stroke-linecap="round"/>
<line x1="111.50" y1="824.75" x2="608.25" y2="824.75" stroke="#d3d3d3" stroke-width="1.67" stroke-dasharray="2 6" stroke-linecap="round"/>
<g clip-path="url(#clipBL)">
<line x1="161.25" y1="543.75" x2="106.01" y2="848.25" stroke="#808080" stroke-width="1.8" />
<line x1="252.75" y1="543.75" x2="197.51" y2="848.25" stroke="#808080" stroke-width="1.8" />
<line x1="343.75" y1="543.75" x2="288.51" y2="848.25" stroke="#808080" stroke-width="1.8" />
<line x1="435.20" y1="543.75" x2="379.96" y2="848.25" stroke="#808080" stroke-width="1.8" />
<line x1="526.60" y1="543.75" x2="471.36" y2="848.25" stroke="#808080" stroke-width="1.8" />
<line x1="608.25" y1="601.00" x2="563.50" y2="848.25" stroke="#808080" stroke-width="1.8" />
</g>
<text x="161.25" y="537.00" text-anchor="middle" fill="#808080" font-size="20" >21.6</text>
<text x="252.75" y="537.00" text-anchor="middle" fill="#808080" font-size="20" >21.8</text>
<text x="343.75" y="537.00" text-anchor="middle" fill="#808080" font-size="20" >22</text>
<text x="435.20" y="537.00" text-anchor="middle" fill="#808080" font-size="20" >22.2</text>
<text x="526.60" y="537.00" text-anchor="middle" fill="#808080" font-size="20" >22.4</text>
<text transform="translate(633.90,601.30) rotate(-90)" text-anchor="middle" fill="#808080" font-size="20" >22.6</text>
<rect x="111.5" y="543.75" width="496.75" height="304.5" fill="none" stroke="#000" stroke-width="2"/>
<line x1="95.00" y1="565.25" x2="111.50" y2="565.25" stroke="#000" stroke-width="1.67" />
<line x1="95.00" y1="608.50" x2="111.50" y2="608.50" stroke="#000" stroke-width="1.67" />
<line x1="95.00" y1="651.75" x2="111.50" y2="651.75" stroke="#000" stroke-width="1.67" />
<line x1="95.00" y1="695.00" x2="111.50" y2="695.00" stroke="#000" stroke-width="1.67" />
<line x1="95.00" y1="738.25" x2="111.50" y2="738.25" stroke="#000" stroke-width="1.67" />
<line x1="95.00" y1="781.50" x2="111.50" y2="781.50" stroke="#000" stroke-width="1.67" />
<line x1="95.00" y1="824.75" x2="111.50" y2="824.75" stroke="#000" stroke-width="1.67" />
<text transform="translate(82.70,824.75) rotate(-90)" text-anchor="middle" fill="#000" font-size="26.67" >30.15</text>
<text transform="translate(82.70,695.00) rotate(-90)" text-anchor="middle" fill="#000" font-size="26.67" >30.30</text>
<text transform="translate(82.70,565.25) rotate(-90)" text-anchor="middle" fill="#000" font-size="26.67" >30.45</text>
<line x1="144.50" y1="848.25" x2="144.50" y2="864.40" stroke="#000" stroke-width="1.67" />
<line x1="213.00" y1="848.25" x2="213.00" y2="864.40" stroke="#000" stroke-width="1.67" />
<line x1="281.50" y1="848.25" x2="281.50" y2="864.40" stroke="#000" stroke-width="1.67" />
<line x1="350.00" y1="848.25" x2="350.00" y2="864.40" stroke="#000" stroke-width="1.67" />
<line x1="418.50" y1="848.25" x2="418.50" y2="864.40" stroke="#000" stroke-width="1.67" />
<line x1="487.00" y1="848.25" x2="487.00" y2="864.40" stroke="#000" stroke-width="1.67" />
<line x1="555.50" y1="848.25" x2="555.50" y2="864.40" stroke="#000" stroke-width="1.67" />
<text x="144.50" y="895.20" text-anchor="middle" fill="#000" font-size="26.67" >35.0</text>
<text x="281.50" y="895.20" text-anchor="middle" fill="#000" font-size="26.67" >35.4</text>
<text x="418.50" y="895.20" text-anchor="middle" fill="#000" font-size="26.67" >35.8</text>
<text x="555.50" y="895.20" text-anchor="middle" fill="#000" font-size="26.67" >36.2</text>
<text x="360.30" y="936.90" text-anchor="middle" fill="#000" font-size="26.67" >Salinity</text>
<text transform="translate(33.30,695.00) rotate(-90)" text-anchor="middle" fill="#000" font-size="26.67" >θ [ °C ]</text>
<polygon points="783.5,543.75 1056,543.75 1021.1,641 890.4,701.5 783.5,673.1" fill="#d3d3d3"/>
<circle cx="1032" cy="695.9" r="6.9" fill="#ff0000"/>
<rect x="783.5" y="543.75" width="496.5" height="304.25" fill="none" stroke="#000" stroke-width="2"/>
<line x1="767.00" y1="548.75" x2="783.50" y2="548.75" stroke="#000" stroke-width="1.67" />
<line x1="1280.00" y1="548.75" x2="1297.00" y2="548.75" stroke="#000" stroke-width="1.67" />
<text transform="translate(754.00,548.75) rotate(-90)" text-anchor="middle" fill="#000" font-size="26.67" >25.4</text>
<line x1="767.00" y1="644.50" x2="783.50" y2="644.50" stroke="#000" stroke-width="1.67" />
<line x1="1280.00" y1="644.50" x2="1297.00" y2="644.50" stroke="#000" stroke-width="1.67" />
<text transform="translate(754.00,644.50) rotate(-90)" text-anchor="middle" fill="#000" font-size="26.67" >25.2</text>
<line x1="767.00" y1="740.25" x2="783.50" y2="740.25" stroke="#000" stroke-width="1.67" />
<line x1="1280.00" y1="740.25" x2="1297.00" y2="740.25" stroke="#000" stroke-width="1.67" />
<text transform="translate(754.00,740.25) rotate(-90)" text-anchor="middle" fill="#000" font-size="26.67" >25</text>
<line x1="767.00" y1="836.00" x2="783.50" y2="836.00" stroke="#000" stroke-width="1.67" />
<line x1="1280.00" y1="836.00" x2="1297.00" y2="836.00" stroke="#000" stroke-width="1.67" />
<text transform="translate(754.00,836.00) rotate(-90)" text-anchor="middle" fill="#000" font-size="26.67" >24.8</text>
<line x1="969.00" y1="848.00" x2="969.00" y2="864.40" stroke="#000" stroke-width="1.67" />
<line x1="969.00" y1="527.50" x2="969.00" y2="543.75" stroke="#000" stroke-width="1.67" />
<text x="969.00" y="895.20" text-anchor="middle" fill="#000" font-size="26.67" >-80.5</text>
<line x1="1186.00" y1="848.00" x2="1186.00" y2="864.40" stroke="#000" stroke-width="1.67" />
<line x1="1186.00" y1="527.50" x2="1186.00" y2="543.75" stroke="#000" stroke-width="1.67" />
<text x="1186.00" y="895.20" text-anchor="middle" fill="#000" font-size="26.67" >-80</text>
<text x="784.00" y="521.00" text-anchor="start" fill="#000" font-size="26.67" >5</text>
<text x="1280.00" y="521.25" text-anchor="end" fill="#000" font-size="26.67" >2006-08-14 18:06:50</text>
</svg></body></html>
